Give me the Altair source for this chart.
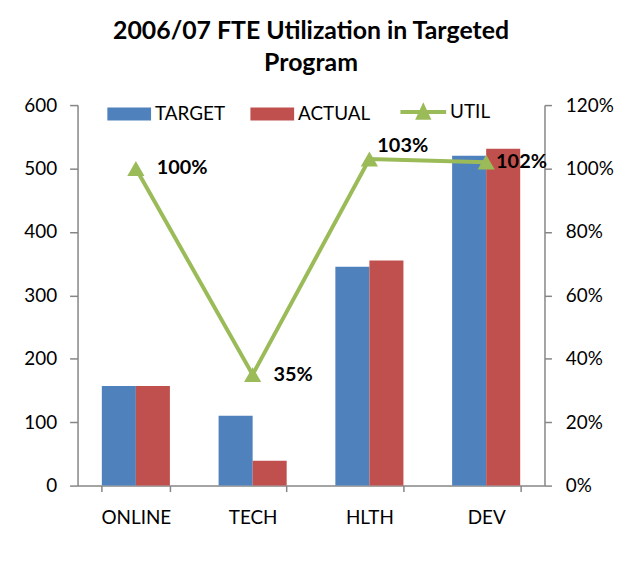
import altair as alt
import pandas as pd

categories = ["ONLINE", "TECH", "HLTH", "DEV"]
target = [157, 110, 345, 520]
actual = [157, 39, 355, 531]
util = [1.00, 0.35, 1.03, 1.02]
util_labels = ["100%", "35%", "103%", "102%"]
left_ticks = [0, 100, 200, 300, 400, 500, 600]
right_ticks = [0, 0.2, 0.4, 0.6, 0.8, 1.0, 1.2]

BLUE = "#4F81BD"
RED = "#C0504D"
GREEN = "#9BBB59"
AXIS = "#868686"
FONT = "Lato"

bar_df = pd.DataFrame(
    [{"category": c, "series": "TARGET", "value": v} for c, v in zip(categories, target)]
    + [{"category": c, "series": "ACTUAL", "value": v} for c, v in zip(categories, actual)]
)
line_df = pd.DataFrame({"category": categories, "util": util, "label": util_labels, "series": "UTIL"})

x_enc = alt.X(
    "category:N",
    sort=categories,
    scale=alt.Scale(paddingInner=0.417, paddingOuter=0.208),
    axis=alt.Axis(
        title=None, labelAngle=0, labelFont=FONT, labelFontSize=19, labelColor="black",
        domainColor=AXIS, domainWidth=1.5, tickColor=AXIS, tickWidth=1.5, tickSize=6,
        tickBand="extent", labelPadding=17,
    ),
)

bars = alt.Chart(bar_df).mark_bar().encode(
    x=x_enc,
    xOffset=alt.XOffset("series:N", sort=["TARGET", "ACTUAL"]),
    y=alt.Y(
        "value:Q",
        scale=alt.Scale(domain=[0, 600], nice=False),
        axis=alt.Axis(
            title=None, values=left_ticks, grid=False, labelFont=FONT, labelFontSize=19,
            labelColor="black", domainColor=AXIS, domainWidth=1.5, tickColor=AXIS,
            tickWidth=1.5, tickSize=8, labelPadding=13,
        ),
    ),
    color=alt.Color(
        "series:N",
        sort=["TARGET", "ACTUAL"],
        scale=alt.Scale(domain=["TARGET", "ACTUAL"], range=[BLUE, RED]),
        legend=alt.Legend(
            title=None, orient="none", legendX=30, legendY=-13, direction="horizontal",
            symbolType="M-1,-0.3H1V0.3H-1Z", symbolSize=1936, symbolStrokeWidth=0,
            labelFont=FONT, labelFontSize=19, labelColor="black", labelOffset=4,
            columnPadding=25, padding=0,
        ),
    ),
)

y_util = alt.Y(
    "util:Q",
    scale=alt.Scale(domain=[0, 1.2], nice=False),
    axis=alt.Axis(
        title=None, orient="right", values=right_ticks, format=".0%", grid=False,
        labelFont=FONT, labelFontSize=19, labelColor="black", domainColor=AXIS,
        domainWidth=1.5, tickColor=AXIS, tickWidth=1.5, tickSize=7, labelPadding=14,
    ),
)

line = alt.Chart(line_df).mark_line(strokeWidth=4).encode(
    x=x_enc,
    y=y_util,
    stroke=alt.Stroke(
        "series:N",
        scale=alt.Scale(domain=["UTIL"], range=[GREEN]),
        legend=alt.Legend(
            title=None, orient="none", legendX=323, legendY=-18, direction="horizontal",
            symbolType="M-1,0H1M-0.22,0.25L0,-0.22L0.22,0.25Z", symbolSize=2116,
            symbolStrokeWidth=4, symbolFillColor=GREEN, symbolStrokeColor=GREEN,
            labelFont=FONT, labelFontSize=19, labelColor="black", labelOffset=2, padding=0,
        ),
    ),
)

points = alt.Chart(line_df).mark_point(
    shape="triangle-up", filled=True, size=300, color=GREEN, opacity=1
).encode(x=x_enc, y=y_util)

lbl_a = alt.Chart(line_df).transform_filter(
    alt.FieldOneOfPredicate(field="category", oneOf=["ONLINE", "TECH"])
).mark_text(
    align="left", baseline="middle", dx=21, font=FONT, fontSize=20, fontWeight="bold", color="black"
).encode(x=x_enc, y=y_util, text="label:N")

lbl_b = alt.Chart(line_df).transform_filter(
    alt.FieldEqualPredicate(field="category", equal="HLTH")
).mark_text(
    align="left", baseline="middle", dx=8, dy=-13, font=FONT, fontSize=20, fontWeight="bold", color="black"
).encode(x=x_enc, y=y_util, text="label:N")

lbl_c = alt.Chart(line_df).transform_filter(
    alt.FieldEqualPredicate(field="category", equal="DEV")
).mark_text(
    align="left", baseline="middle", dx=10, font=FONT, fontSize=20, fontWeight="bold", color="black"
).encode(x=x_enc, y=y_util, text="label:N")

chart = alt.layer(
    bars,
    alt.layer(line, points, lbl_a, lbl_b, lbl_c),
).resolve_scale(y="independent", color="independent").properties(
    width=470,
    height=383,
    padding={"left": 15, "top": 9, "right": 5, "bottom": 5},
    title=alt.Title(
        ["2006/07 FTE Utilization in Targeted", "Program"],
        font=FONT, fontSize=25, fontWeight="bold", color="black",
        lineHeight=33, anchor="middle", offset=11,
    ),
).configure_view(stroke=None)

chart.save("out.html", embed_options={"renderer": "svg", "actions": False})
